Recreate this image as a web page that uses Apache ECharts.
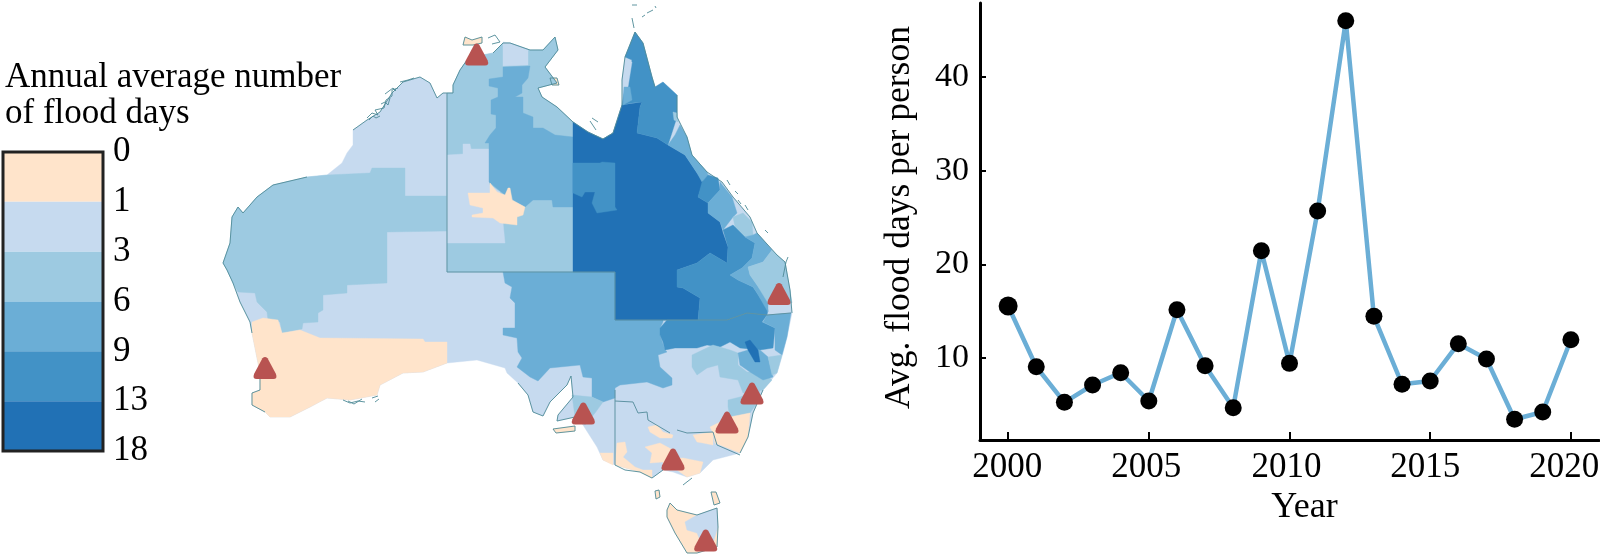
<!DOCTYPE html>
<html><head><meta charset="utf-8">
<style>html,body{margin:0;padding:0;background:#fff}#c{width:1600px;height:559px}</style>
<script src="https://cdn.jsdelivr.net/npm/echarts@6/dist/echarts.min.js"></script>
</head><body><div id="c"></div>
<script>
// ---- line chart data
const years = [2000,2001,2002,2003,2004,2005,2006,2007,2008,2009,2010,2011,2012,2013,2014,2015,2016,2017,2018,2019,2020];
const floodDays = [15.55,9.07,5.27,7.12,8.43,5.41,15.15,9.18,4.7,21.45,9.43,25.7,46.0,14.45,7.2,7.55,11.53,9.9,3.46,4.24,11.95];
const yearTicks = [2000,2005,2010,2015,2020];
const dayTicks = [10,20,30,40];
// ---- legend data
const legendTicks = ['0','1','3','6','9','13','18'];
const bandColors = ['#FFE4CB','#C6DAEF','#9DCAE1','#6BAED6','#4292C6','#2171B5'];
// ---- stations (map units)
const stations = [[476.7,54.5],[265,368],[583.3,413.5],[673,459.5],[705.7,540.5],[727,422.6],[752,393.5],[779,294]];
// ---- map outlines, traced in map units
const mainland = [[232,217],[238,207],[243,213],[257,197],[273,185],[307,177],[327,175],[342,163],[347,153],[353,145],[353,130],[367,120],[380,112],[392,93],[403,82],[420,77],[430,83],[437,98],[443,93],[453,93],[453,85],[460,70],[467,60],[477,56],[493,53],[503,43],[510,43],[530,50],[543,50],[555,37],[558,50],[545,67],[557,83],[538,88],[542,97],[557,107],[573,122],[588,132],[603,139],[613,133],[622,105],[622,80],[625,57],[635,32],[643,43],[652,77],[655,87],[663,82],[677,95],[677,117],[687,137],[692,155],[707,172],[722,182],[733,197],[750,217],[757,233],[777,255],[785,262],[790,290],[792,313],[787,337],[783,353],[777,373],[763,390],[753,413],[748,437],[740,453],[713,460],[700,473],[687,477],[673,472],[663,470],[652,478],[640,472],[615,465],[603,460],[597,447],[583,425],[575,417],[557,421],[558,415],[573,397],[571,376],[567,385],[550,402],[543,416],[533,412],[528,395],[518,383],[507,373],[505,368],[477,360],[447,363],[423,372],[403,373],[380,385],[377,395],[350,400],[327,398],[310,407],[290,417],[270,417],[265,412],[252,405],[252,393],[260,390],[260,373],[252,333],[250,322],[240,302],[233,283],[227,270],[223,263],[230,243]];
const kangaroo = [[553,429],[575,426],[575,431],[556,433]];
const tasmania = [[667,510],[670,503],[677,510],[697,515],[717,508],[718,527],[717,547],[697,553],[687,553],[675,533],[667,517]];
const tasmaniaEast = [[697,515],[717,508],[718,527],[713,543],[700,540],[697,533],[687,530],[685,522]];
const tiwi = [[472,40],[482,37],[482,43],[473,45],[463,45],[465,37]];
const groote = [[550,78],[557,78],[559,85],[552,85]];
const waMid = [[238,292],[233,283],[227,270],[223,263],[230,243],[232,217],[238,207],[243,213],[257,197],[273,185],[307,177],[327,175],[370,173],[372,168],[405,168],[405,196],[447,196],[447,231],[387,232],[387,283],[347,285],[347,293],[323,295],[323,310],[318,313],[318,322],[303,323],[302,329],[288,332],[282,333],[280,322],[268,320],[267,312],[257,302],[255,293]];
const waSouth = [[252,322],[263,318],[278,320],[282,333],[300,330],[320,338],[423,339],[425,342],[447,342],[447,363],[423,372],[403,373],[380,385],[377,395],[350,400],[327,398],[310,407],[290,417],[270,417],[265,412],[252,405],[252,393],[260,390],[260,373],[252,333]];
const ntAll = [[447,93],[453,93],[453,85],[460,70],[467,60],[477,56],[493,53],[503,43],[510,43],[530,50],[543,50],[555,37],[558,50],[545,67],[557,83],[538,88],[542,97],[557,107],[573,122],[573,272],[447,272]];
const ntTop = [[503,42],[510,43],[528,50],[528,65],[503,66]];
const ntMid = [[447,155],[463,154],[463,144],[470,144],[471,149],[489,149],[489,184],[500,192],[505,243],[447,243]];
const ntEast = [[503,67],[503,77],[489,79],[489,86],[498,88],[498,97],[491,100],[491,114],[496,115],[496,128],[490,135],[485,143],[489,143],[489,182],[505,195],[510,188],[513,200],[525,207],[533,200],[552,200],[553,207],[573,207],[573,137],[555,135],[543,128],[533,128],[533,117],[523,113],[523,97],[515,97],[522,93],[522,85],[528,78],[530,66]];
const ntCentre = [[468,193],[490,193],[490,183],[497,192],[505,195],[508,188],[510,188],[512,200],[525,207],[523,215],[517,217],[517,225],[500,223],[493,218],[472,217],[472,215],[483,213],[483,208],[470,205]];
const saNsw = [[503,272],[505,283],[512,287],[510,298],[515,303],[515,328],[503,328],[503,335],[517,338],[518,352],[522,358],[517,367],[530,377],[538,381],[550,368],[580,365],[583,377],[592,378],[592,397],[603,402],[615,398],[615,388],[620,385],[647,382],[663,388],[672,385],[672,378],[660,367],[658,355],[667,352],[665,350],[660,335],[660,328],[663,322],[663,320],[615,320],[615,272]];
const saCoast = [[572,395],[592,397],[603,402],[595,413],[585,425],[575,417]];
const qldAll = [[573,122],[588,132],[603,139],[613,133],[622,105],[642,102],[640,107],[637,133],[657,138],[668,145],[685,155],[697,173],[703,182],[698,197],[708,203],[708,213],[720,222],[723,233],[728,247],[727,263],[710,253],[697,263],[677,270],[677,287],[683,288],[700,298],[698,320],[615,320],[615,272],[573,272]];
const qldWest = [[573,163],[600,163],[602,162],[615,163],[615,207],[617,210],[597,213],[592,203],[595,192],[585,192],[582,197],[573,193]];
const capeYork = [[635,32],[643,43],[652,77],[655,87],[663,82],[677,95],[677,117],[668,145],[657,138],[637,133],[640,107],[642,102],[632,103],[622,105],[625,87],[632,60],[625,57]];
const capeSliverA = [[627,60],[632,62],[628,87],[623,87],[622,78],[624,68]];
const capeSliverB = [[624,87],[630,87],[632,100],[623,105]];
const capeEast = [[668,145],[675,135],[680,125],[687,137],[692,155],[685,155]];
const capeTop = [[673,112],[677,113],[678,122],[674,120]];
const mackay = [[685,155],[692,155],[707,172],[708,175],[702,182],[697,173]];
const rockA = [[708,175],[718,178],[720,190],[708,203],[698,197],[702,182]];
const rockB = [[720,182],[732,197],[737,213],[733,217],[723,230],[720,222],[708,213],[708,203],[720,190]];
const rockC = [[733,217],[743,213],[752,222],[753,235],[745,237],[735,227]];
const qldEast = [[723,230],[733,225],[745,237],[755,243],[752,258],[742,268],[730,275],[738,280],[753,287],[757,293],[768,310],[767,315],[747,313],[727,320],[698,320],[700,298],[683,288],[677,287],[677,270],[697,263],[710,253],[727,263],[728,247]];
const qldCoastB = [[745,237],[753,235],[757,233],[772,250],[763,262],[748,267],[750,275],[757,285],[768,300],[768,312],[757,293],[753,287],[738,280],[730,275],[742,268],[752,258],[755,243]];
const qldCoastC = [[748,267],[763,262],[772,250],[777,255],[785,262],[790,290],[792,303],[768,303],[757,285],[750,275]];
const nswNorth = [[660,328],[667,320],[698,320],[727,320],[747,313],[767,315],[762,322],[775,328],[773,348],[760,350],[740,348],[730,342],[720,347],[707,345],[697,348],[675,348],[665,350],[663,342],[660,335]];
const nswCoast = [[763,322],[767,315],[791,313],[787,337],[782,355],[775,350],[775,328]];
const nswInland = [[692,355],[713,345],[730,350],[738,353],[738,365],[747,372],[763,372],[772,380],[763,390],[743,393],[738,380],[720,377],[718,365],[707,368],[697,375],[692,367]];
const nswHunter = [[738,353],[748,350],[760,350],[768,357],[773,377],[763,380],[750,372],[740,365]];
const nswShore = [[768,357],[782,355],[777,373],[772,375]];
const nswCore = [[745,342],[750,340],[758,350],[760,362],[755,362],[748,350]];
const sydney = [[728,400],[740,397],[760,390],[757,403],[750,413],[730,417],[728,407]];
const beigeCoast = [[750,413],[748,437],[740,453],[715,443],[713,433],[710,427],[730,417]];
const beigeAlps = [[693,435],[713,432],[713,445],[703,443],[697,442]];
const beigeMurray = [[648,427],[657,425],[663,432],[673,435],[672,438],[660,438],[650,432]];
const beigeMelb = [[645,447],[660,443],[673,450],[675,458],[683,458],[703,462],[700,473],[687,477],[677,470],[663,470],[663,462],[650,463],[652,453]];
const beigeVicW = [[617,443],[625,442],[627,452],[623,457],[635,467],[643,470],[652,470],[652,478],[640,472],[615,465]];
const beigeSA = [[600,453],[613,453],[613,465],[603,460]];
const kingIs = [[655,491],[659,490],[660,497],[656,499]];
const flinders = [[711,492],[716,492],[720,503],[714,505]];
// ---- thin coast and state lines, map units
const coastLines = [
 [[252,333],[250,322],[240,302],[233,283],[227,270],[223,263],[230,243],[232,217],[238,207],[243,213],[257,197],[273,185],[307,177]],
 [[260,390],[252,393],[252,405],[265,412]],[[260,373],[260,390]],
 [[353,130],[367,120],[380,112],[392,93],[403,82],[420,77],[430,83],[437,98],[443,93],[453,93],[453,85],[460,70],[467,60]],
 [[493,53],[503,43],[510,43],[530,50],[543,50],[555,37],[558,50],[545,67],[557,83],[538,88],[542,97],[557,107],[573,122],[588,132],[603,139],[613,133],[622,105],[622,80],[625,57],[635,32],[643,43],[652,77],[655,87]],
 [[677,95],[677,117],[687,137],[692,155],[707,172],[722,182],[733,197],[750,217],[757,233],[777,255],[785,262],[790,290],[792,313]],
 [[518,383],[528,395],[533,412],[543,416],[550,402],[567,385],[571,376],[573,397],[558,415],[557,421],[575,417]],
 [[553,429],[575,426],[575,431],[556,433],[553,429]],
 [[763,390],[753,413],[748,437],[740,453]],
 [[615,465],[625,470],[640,472],[652,478],[663,470]],
 [[667,510],[670,503],[677,510],[697,515],[717,508],[718,527],[717,547],[697,553],[687,553],[675,533],[667,517],[667,510]],
 [[655,491],[659,490],[660,497],[656,499],[655,491]],[[711,492],[716,492],[720,503],[714,505],[711,492]],
 [[472,40],[482,37],[482,43],[473,45],[463,45],[465,37],[472,40]],[[488,38],[495,35],[500,42],[492,44]],
 [[550,78],[557,78],[559,85],[552,85],[550,78]],
 [[367,118],[372,113],[378,115],[375,110],[384,108],[386,100],[392,96],[392,90],[398,88]],
 [[369,120],[373,116],[376,118],[380,116]],[[381,104],[385,102],[388,105],[390,98]],[[385,94],[393,88],[396,91]],[[400,82],[408,80],[414,78]],
 [[343,400],[350,403],[358,401],[365,402]],[[348,401],[354,404],[362,399]],[[372,398],[378,396]],[[375,402],[379,399]],
 [[632,5],[637,5]],[[647,13],[653,10]],[[632,18],[634,28]],[[642,17],[645,15]],[[655,6],[656,8]],
 [[727,180],[730,185]],[[738,200],[741,204]],[[745,205],[748,210]],[[783,277],[786,262],[788,257]],[[735,191],[738,194]],[[765,230],[768,233]],
 [[683,485],[692,478]],[[590,121],[596,130]],[[592,118],[598,122]]
];
const stateLines = [
 [[447,93],[447,272],[573,272]],
 [[573,272],[615,272],[615,320],[698,320],[727,320],[747,313],[767,315],[791,313]],
 [[615,390],[615,465]],
 [[615,401],[633,402],[638,413],[647,412],[648,420],[670,433]],
 [[677,430],[687,433],[713,432],[717,445],[740,455]]
];
// ---- regions, painted in order: name ring band
const regionNames = ['mainland','kangaroo','tasmania','tasmaniaEast','tiwi','groote','waMid','waSouth','ntAll','ntTop','ntMid','ntEast','ntCentre','saNsw','saCoast','qldAll','qldWest','capeYork','capeSliverA','capeSliverB','capeEast','capeTop','mackay','rockA','rockB','rockC','qldEast','qldCoastB','qldCoastC','nswNorth','nswCoast','nswInland','nswHunter','nswShore','nswCore','sydney','beigeCoast','beigeAlps','beigeMurray','beigeMelb','beigeVicW','beigeSA','kingIs','flinders'];
const regionRings = [mainland,kangaroo,tasmania,tasmaniaEast,tiwi,groote,waMid,waSouth,ntAll,ntTop,ntMid,ntEast,ntCentre,saNsw,saCoast,qldAll,qldWest,capeYork,capeSliverA,capeSliverB,capeEast,capeTop,mackay,rockA,rockB,rockC,qldEast,qldCoastB,qldCoastC,nswNorth,nswCoast,nswInland,nswHunter,nswShore,nswCore,sydney,beigeCoast,beigeAlps,beigeMurray,beigeMelb,beigeVicW,beigeSA,kingIs,flinders];
const regionBands = [1,0,0,1,0,0,2,0,2,1,1,3,0,3,2,5,4,4,1,3,3,2,3,4,3,2,4,3,2,4,3,2,3,2,5,2,0,0,0,0,0,0,0,0];

const flip = r => r.map(p => [p[0], -p[1]]);
const closed = r => { const f = flip(r); f.push(f[0]); return f; };
const features = regionNames.map((n,i)=>({type:'Feature',properties:{name:n},geometry:{type:'Polygon',coordinates:[closed(regionRings[i])]}}));
features.push({type:'Feature',properties:{name:'coast'},geometry:{type:'MultiLineString',coordinates:coastLines.map(flip)}});
features.push({type:'Feature',properties:{name:'states'},geometry:{type:'MultiLineString',coordinates:stateLines.map(flip)}});
echarts.registerMap('aus',{type:'FeatureCollection',features});

const serif = '"Liberation Serif","Times New Roman",serif';
const chart = echarts.init(document.getElementById('c'),null,{renderer:'canvas'});
const regions = regionNames.map((n,i)=>({name:n,itemStyle:{areaColor:bandColors[regionBands[i]],borderColor:bandColors[regionBands[i]],borderWidth:0.4}}));
regions.push({name:'coast',itemStyle:{areaColor:'none',color:'none',borderColor:'#4E8A96',borderWidth:0.9}});
regions.push({name:'states',itemStyle:{areaColor:'none',color:'none',borderColor:'#5E93A3',borderWidth:1}});
const roundedTriangle = 'path://M39 6 Q50 -6 61 6 L97 76 Q106 100 86 100 L14 100 Q-6 100 3 76 Z';
const labelNudge = [1,2.5,3,5,6.5];
const yearRich = Object.fromEntries(yearTicks.map((y,i)=>['y'+y,{padding:[0,labelNudge[i]*2,0,0],fontFamily:serif,fontSize:35,color:'#000'}]));

chart.setOption({
 animation:false,
 backgroundColor:'#fff',
 title:{text:'Annual average number\nof flood days',left:5,top:60,padding:0,textStyle:{fontFamily:serif,fontSize:35,fontWeight:'normal',color:'#000',lineHeight:36}},
 geo:{map:'aus',silent:true,roam:false,aspectScale:1,layoutCenter:['50%','50%'],layoutSize:1600,
  boundingCoords:[[0,0],[1600,-559]],label:{show:false},regions,
  itemStyle:{borderWidth:0},emphasis:{disabled:true},select:{disabled:true}},
 grid:[
  {left:3,top:152,width:100,height:299,outerBoundsMode:'none'},
  {left:980,top:3,width:619,height:437,outerBoundsMode:'none'}
 ],
 xAxis:[
  {gridIndex:0,type:'category',data:['days'],show:false},
  {gridIndex:1,type:'value',min:1999,max:2021,
   name:'Year',nameLocation:'middle',nameGap:48,nameTextStyle:{fontFamily:serif,fontSize:36,color:'#000',padding:[0,0,0,30]},
   axisLine:{show:true,lineStyle:{color:'#000',width:3}},
   axisTick:{show:true,inside:true,length:8,customValues:yearTicks,lineStyle:{color:'#000',width:2}},
   axisLabel:{customValues:yearTicks,formatter:v=>'{y'+v+'|'+v+'}',rich:yearRich,margin:10,fontFamily:serif,fontSize:35,color:'#000'},
   splitLine:{show:false}}
 ],
 yAxis:[
  {gridIndex:0,type:'value',inverse:true,min:0,max:6,interval:1,position:'right',
   axisLine:{show:false},axisTick:{show:false},splitLine:{show:false},
   axisLabel:{formatter:v=>legendTicks[v],margin:10,padding:[10,0,0,0],fontFamily:serif,fontSize:35,color:'#000'}},
  {gridIndex:1,type:'value',min:1.25,max:47.9,
   name:'Avg. flood days per person',nameLocation:'middle',nameGap:62,nameTextStyle:{fontFamily:serif,fontSize:35.5,color:'#000',padding:[0,0,0,8]},
   axisLine:{show:true,lineStyle:{color:'#000',width:3}},
   axisTick:{show:true,inside:true,length:6,customValues:dayTicks,lineStyle:{color:'#000',width:2}},
   axisLabel:{customValues:dayTicks,margin:11,fontFamily:serif,fontSize:34,color:'#000'},
   splitLine:{show:false}}
 ],
 series:[
  ...bandColors.map(c=>({type:'bar',xAxisIndex:0,yAxisIndex:0,stack:'legend',barWidth:'100%',silent:true,data:[1],itemStyle:{color:c}})),
  {type:'scatter',coordinateSystem:'geo',geoIndex:0,silent:true,symbol:roundedTriangle,symbolSize:[23,22],
   data:stations.map(s=>[s[0],-s[1]]),
   itemStyle:{color:'#B85351',opacity:1},z:5},
  {type:'line',xAxisIndex:1,yAxisIndex:1,data:years.map((y,i)=>[y,floodDays[i]]),
   symbol:'circle',symbolSize:(v,p)=>p.dataIndex===0?19:17,showSymbol:true,
   lineStyle:{color:'#6BAED6',width:4.5},itemStyle:{color:'#000',borderWidth:0},silent:true,z:4}
 ],
 graphic:[{type:'rect',z:20,silent:true,shape:{x:3,y:152,width:100,height:299},style:{fill:'none',stroke:'#222',lineWidth:3}}]
});
</script></body></html>
